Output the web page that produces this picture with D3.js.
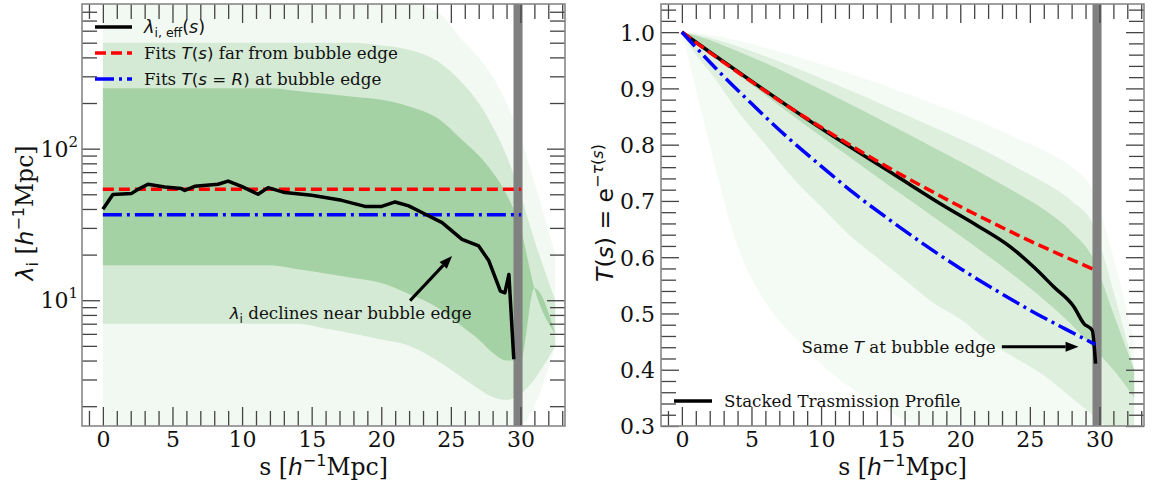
<!DOCTYPE html>
<html>
<head>
<meta charset="utf-8">
<script src="https://cdn.jsdelivr.net/npm/d3@7"></script>
<style>
  body { margin: 0; background: #fff; }
  svg { display: block; }
  text { font-family: 'DejaVu Serif', serif; fill: #111; }
  .math { font-family: 'DejaVu Sans', sans-serif; }
</style>
</head>
<body>
<script>
const WIDTH = 1155
const HEIGHT = 484

// ---- left panel : lambda_i,eff(s) ----
const S_EFF = [0, 0.72, 2.04, 2.5, 3.24, 4.44, 5.64, 5.88, 6.6, 8.27, 9.0, 9.96, 11.15, 11.87, 13.07, 15.0, 17.15, 18.83, 20.03, 21.0, 21.97, 23.17, 24.37, 25.8, 27.0, 27.73, 28.56, 28.88, 29.17, 29.52]
const LAMBDA_EFF = [39.8, 49.9, 50.5, 53.7, 58.2, 55.9, 54.5, 53, 56.4, 58.2, 61.1, 56.4, 50, 55.3, 51.3, 49.2, 45.6, 41.6, 41.6, 44.5, 41.9, 36.9, 32.5, 25.2, 22.8, 18.2, 11.5, 11.2, 14.8, 4.08]
const S_FIT_L = [0, 30.05]
const LAMBDA_FAR = [54, 54]
const LAMBDA_EDGE = [36.7, 36.7]

// spread of individual sightlines (read envelopes)
const S_BAND_L = [0, 2, 4, 6, 8, 10, 12, 14, 16, 18, 20, 22, 24, 26, 27, 28, 29, 30, 31, 32.5]
const OUTER_HI_L = [900, 900, 900, 900, 900, 900, 900, 900, 900, 900, 900, 900, 800, 500, 400, 300, 200, 120, 60, 20]
const OUTER_LO_L = [1.5, 1.5, 1.5, 1.5, 1.5, 1.5, 1.5, 1.5, 1.5, 1.5, 1.5, 1.5, 1.5, 1.5, 1.5, 1.5, 1.5, 1.5, 2, 5]
const MID_HI_L = [500, 500, 500, 500, 500, 500, 500, 500, 500, 500, 480, 450, 380, 260, 200, 140, 90, 50, 25, 10]
const MID_LO_L = [7, 7, 7, 7, 7, 7, 7, 7, 6.5, 6, 5.5, 5, 4, 3, 2.6, 2.3, 2.2, 2.4, 3, 5]
const CORE_HI_L = [250, 250, 250, 250, 250, 250, 250, 240, 230, 220, 210, 190, 160, 110, 90, 70, 50, 30, 12, 6]
const CORE_LO_L = [17, 17, 17, 17, 17, 17, 17, 16, 15, 14, 13, 11, 9, 6.5, 5.5, 4.5, 4, 4, 12, 6]

// ---- right panel : T(s) ----
const S_STACK = [0, 2.1, 5.7, 10, 15.25, 18.84, 21.23, 23.62, 25.3, 26.73, 28.16, 28.88, 29.48, 29.72]
const T_STACK = [1.0, 0.963, 0.901, 0.829, 0.747, 0.691, 0.656, 0.618, 0.582, 0.547, 0.512, 0.482, 0.470, 0.411]
const S_FIT_R = [0, 2.5, 5, 7.5, 10, 12.5, 15, 17.5, 20, 22.5, 25, 27.5, 29.7]
const T_FAR = [1.0, 0.955, 0.912, 0.870, 0.831, 0.793, 0.757, 0.723, 0.690, 0.659, 0.629, 0.601, 0.577]
const T_EDGE = [1.0, 0.934, 0.873, 0.815, 0.762, 0.711, 0.665, 0.621, 0.580, 0.542, 0.506, 0.473, 0.445]

const S_BAND_R = [0, 1, 2, 4, 6, 8, 10, 12, 14, 16, 18, 20, 22, 24, 26, 28, 29.5, 31, 32.5]
const OUTER_HI_R = [1.0, 0.998, 0.995, 0.985, 0.972, 0.958, 0.943, 0.927, 0.91, 0.892, 0.873, 0.855, 0.835, 0.812, 0.79, 0.76, 0.72, 0.6, 0.45]
const OUTER_LO_R = [1.0, 0.9, 0.8, 0.62, 0.52, 0.46, 0.41, 0.37, 0.34, 0.31, 0.29, 0.28, 0.28, 0.28, 0.28, 0.28, 0.28, 0.28, 0.28]
const MID_HI_R = [1.0, 0.996, 0.99, 0.975, 0.957, 0.938, 0.918, 0.897, 0.876, 0.854, 0.832, 0.81, 0.786, 0.76, 0.733, 0.7, 0.66, 0.54, 0.4]
const MID_LO_R = [1.0, 0.96, 0.93, 0.86, 0.8, 0.74, 0.69, 0.64, 0.6, 0.56, 0.52, 0.49, 0.45, 0.42, 0.39, 0.35, 0.32, 0.29, 0.28]
const CORE_HI_R = [1.0, 0.994, 0.986, 0.966, 0.945, 0.922, 0.898, 0.873, 0.848, 0.822, 0.796, 0.77, 0.743, 0.715, 0.685, 0.645, 0.6, 0.5, 0.4]
const CORE_LO_R = [1.0, 0.982, 0.963, 0.925, 0.888, 0.851, 0.815, 0.779, 0.743, 0.708, 0.673, 0.638, 0.602, 0.565, 0.525, 0.48, 0.44, 0.4, 0.35]

const X_DOMAIN = [-1.5, 33.2]
const BUBBLE_EDGE = [29.5, 30.15]
const X_TICKS = [0, 5, 10, 15, 20, 25, 30]

const svg = d3.select('body')
  .append('svg')
  .attr('width', WIDTH)
  .attr('height', HEIGHT)

const PW = 483, PH = 422
const FS_TEXT = 16.7   // legend / annotation text
const FS_LABEL = 23.5  // axis labels
const left = svg.append('g').attr('transform', 'translate(82,4)')
const right = svg.append('g').attr('transform', 'translate(661,4)')

const xL = d3.scaleLinear().domain(X_DOMAIN).range([0, PW])
const xR = d3.scaleLinear().domain(X_DOMAIN).range([0, PW])
const yL = d3.scaleLog().domain([1.48, 900]).range([PH, 0])
const yR = d3.scaleLinear().domain([0.3, 1.05]).range([PH, 0])

const defs = svg.append('defs')
defs.append('clipPath').attr('id', 'clip').append('rect').attr('width', PW).attr('height', PH)

function bands(g, x, y, s, layers) {
  const cg = g.append('g').attr('clip-path', 'url(#clip)')
  layers.forEach(([lo, hi, op]) => {
    const area = d3.area()
      .x((d, i) => x(s[i]))
      .y0((d, i) => y(lo[i]))
      .y1((d, i) => y(hi[i]))
      .curve(d3.curveMonotoneX)
    cg.append('path').datum(s).attr('d', area).attr('fill', 'green').attr('opacity', op)
  })
  return cg
}

function ticks(g, x, y, xMinor, yMajor, yMinor, yFmt) {
  const style = sel => {
    sel.select('.domain').remove()
    sel.selectAll('line').attr('stroke', '#444').attr('stroke-width', 1.3)
  }
  const xMajor = X_TICKS
  g.append('g').attr('transform', `translate(0,${PH})`)
    .call(d3.axisBottom(x).tickValues(xMinor).tickSize(-15).tickFormat('')).call(style)
  g.append('g').attr('transform', `translate(0,${PH})`)
    .call(d3.axisBottom(x).tickValues(xMajor).tickSize(-19).tickPadding(5).tickFormat(d3.format('d'))).call(style)
  g.append('g')
    .call(d3.axisTop(x).tickValues(xMinor).tickSize(-15).tickFormat('')).call(style)
  g.append('g')
    .call(d3.axisTop(x).tickValues(xMajor).tickSize(-19).tickFormat('')).call(style)
  g.append('g')
    .call(d3.axisLeft(y).tickValues(yMinor).tickSize(-15).tickFormat('')).call(style)
  g.append('g')
    .call(d3.axisLeft(y).tickValues(yMajor).tickSize(-18).tickPadding(6).tickFormat(yFmt)).call(style)
  g.append('g').attr('transform', `translate(${PW},0)`)
    .call(d3.axisRight(y).tickValues(yMinor).tickSize(-15).tickFormat('')).call(style)
  g.append('g').attr('transform', `translate(${PW},0)`)
    .call(d3.axisRight(y).tickValues(yMajor).tickSize(-18).tickFormat('')).call(style)
  g.selectAll('.tick text').attr('font-family', 'DejaVu Serif, serif').attr('font-size', 22).attr('fill', '#111')
  g.append('rect').attr('width', PW).attr('height', PH)
    .attr('fill', 'none').attr('stroke', '#888').attr('stroke-width', 1.6)
}

function bubble(g, x) {
  g.append('rect')
    .attr('x', x(BUBBLE_EDGE[0])).attr('width', x(BUBBLE_EDGE[1]) - x(BUBBLE_EDGE[0]))
    .attr('y', 0).attr('height', PH)
    .attr('fill', '#808080')
}

function arrow(g, x1, y1, x2, y2) {
  const a = Math.atan2(y2 - y1, x2 - x1)
  const L = 13, Wd = 5
  const bx = x2 - L * Math.cos(a), by = y2 - L * Math.sin(a)
  g.append('line').attr('x1', x1).attr('y1', y1).attr('x2', bx).attr('y2', by)
    .attr('stroke', '#000').attr('stroke-width', 3)
  g.append('path')
    .attr('d', `M${x2},${y2}L${bx + Wd * Math.sin(a)},${by - Wd * Math.cos(a)}L${bx - Wd * Math.sin(a)},${by + Wd * Math.cos(a)}Z`)
    .attr('fill', '#000')
}

const xMinor = d3.range(-1, 34).filter(v => v % 5 !== 0)

// ===== left panel =====
bands(left, xL, yL, S_BAND_L, [
  [OUTER_LO_L, OUTER_HI_L, 0.05],
  [MID_LO_L, MID_HI_L, 0.12],
  [CORE_LO_L, CORE_HI_L, 0.22]
])
bubble(left, xL)

const lineL = (s, v, curve) => d3.line().x((d, i) => xL(s[i])).y((d, i) => yL(v[i])).curve(curve || d3.curveLinear)
left.append('path').datum(S_FIT_L).attr('d', lineL(S_FIT_L, LAMBDA_FAR))
  .attr('fill', 'none').attr('stroke', 'red').attr('stroke-width', 3.5).attr('stroke-dasharray', '11,5')
left.append('path').datum(S_FIT_L).attr('d', lineL(S_FIT_L, LAMBDA_EDGE))
  .attr('fill', 'none').attr('stroke', 'blue').attr('stroke-width', 3.5).attr('stroke-dasharray', '19,5,3,5')
left.append('path').datum(S_EFF).attr('d', lineL(S_EFF, LAMBDA_EFF))
  .attr('fill', 'none').attr('stroke', '#000').attr('stroke-width', 3.5).attr('stroke-linejoin', 'round')

const logMinor = []
;[1, 10, 100].forEach(p => d3.range(2, 10).forEach(m => { if (m * p > 1.48 && m * p < 900) logMinor.push(m * p) }))
ticks(left, xL, yL, xMinor, [10, 100], logMinor, () => '')
// log tick labels 10^1, 10^2
;[[10, '1'], [100, '2']].forEach(([v, e]) => {
  const t = left.append('text').attr('x', -4).attr('y', yL(v) + 8).attr('text-anchor', 'end').attr('font-size', 22)
  t.append('tspan').text('10')
  t.append('tspan').attr('font-size', 15).attr('dy', -10).text(e)
})

// legend left
const legL = [
  { y: 23, dash: null, color: '#000' },
  { y: 49, dash: '11,5', color: 'red' },
  { y: 75, dash: '19,5,3,5', color: 'blue' }
]
legL.forEach(d => {
  left.append('line').attr('x1', 13).attr('x2', 50).attr('y1', d.y).attr('y2', d.y)
    .attr('stroke', d.color).attr('stroke-width', 3.5).attr('stroke-dasharray', d.dash)
})
{
  const t = left.append('text').attr('x', 62).attr('y', 29).attr('font-size', FS_TEXT + 1)
  t.append('tspan').attr('class', 'math').attr('font-style', 'italic').text('λ')
  t.append('tspan').attr('class', 'math').attr('font-size', 12.5).attr('dy', 4).text('i, eff')
  t.append('tspan').attr('class', 'math').attr('dy', -4).text('(')
  t.append('tspan').attr('class', 'math').attr('font-style', 'italic').text('s')
  t.append('tspan').attr('class', 'math').text(')')
  const t2 = left.append('text').attr('x', 62).attr('y', 55).attr('font-size', FS_TEXT)
  t2.append('tspan').text('Fits ')
  t2.append('tspan').attr('class', 'math').attr('font-style', 'italic').text('T')
  t2.append('tspan').attr('class', 'math').text('(')
  t2.append('tspan').attr('class', 'math').attr('font-style', 'italic').text('s')
  t2.append('tspan').attr('class', 'math').text(')')
  t2.append('tspan').text(' far from bubble edge')
  const t3 = left.append('text').attr('x', 62).attr('y', 81).attr('font-size', FS_TEXT)
  t3.append('tspan').text('Fits ')
  t3.append('tspan').attr('class', 'math').attr('font-style', 'italic').text('T')
  t3.append('tspan').attr('class', 'math').text('(')
  t3.append('tspan').attr('class', 'math').attr('font-style', 'italic').text('s')
  t3.append('tspan').attr('class', 'math').text(' = ')
  t3.append('tspan').attr('class', 'math').attr('font-style', 'italic').text('R')
  t3.append('tspan').attr('class', 'math').text(')')
  t3.append('tspan').text(' at bubble edge')
}

// annotation left
arrow(left, xL(22.07), yL(9.94), xL(25.09), yL(19.6))
{
  const t = left.append('text').attr('x', xL(17.8)).attr('y', 315).attr('text-anchor', 'middle').attr('font-size', FS_TEXT)
  t.append('tspan').attr('class', 'math').attr('font-style', 'italic').text('λ')
  t.append('tspan').attr('class', 'math').attr('font-size', 12).attr('dy', 4).text('i')
  t.append('tspan').attr('dy', -4).text(' declines near bubble edge')
}

// ===== right panel =====
bands(right, xR, yR, S_BAND_R, [
  [OUTER_LO_R, OUTER_HI_R, 0.045],
  [MID_LO_R, MID_HI_R, 0.09],
  [CORE_LO_R, CORE_HI_R, 0.17]
])
bubble(right, xR)

const lineR = (s, v, curve) => d3.line().x((d, i) => xR(s[i])).y((d, i) => yR(v[i])).curve(curve || d3.curveMonotoneX)
right.append('path').datum(S_STACK).attr('d', lineR(S_STACK, T_STACK))
  .attr('fill', 'none').attr('stroke', '#000').attr('stroke-width', 3.5)
right.append('path').datum(S_FIT_R).attr('d', lineR(S_FIT_R, T_FAR))
  .attr('fill', 'none').attr('stroke', 'red').attr('stroke-width', 3.5).attr('stroke-dasharray', '11,5')
right.append('path').datum(S_FIT_R).attr('d', lineR(S_FIT_R, T_EDGE))
  .attr('fill', 'none').attr('stroke', 'blue').attr('stroke-width', 3.5).attr('stroke-dasharray', '19,5,3,5')

const tMajor = d3.range(3, 11).map(v => v / 10)
const tMinor = d3.range(15, 53).map(v => v / 50).filter(v => Math.round(v * 50) % 5 !== 0)
ticks(right, xR, yR, xMinor, tMajor, tMinor, d3.format('.1f'))
right.selectAll('.tick text').filter(function () { return this.textContent.includes('.') })
  .attr('dy', '0.36em')

// legend right
right.append('line').attr('x1', 13).attr('x2', 51).attr('y1', 397).attr('y2', 397)
  .attr('stroke', '#000').attr('stroke-width', 3.5)
right.append('text').attr('x', 63).attr('y', 403).attr('font-size', FS_TEXT).text('Stacked Trasmission Profile')

// annotation right
arrow(right, xR(22.99), yR(0.4407), xR(28.5), yR(0.4407))
{
  const t = right.append('text').attr('x', xR(22.55)).attr('y', yR(0.4407) + 6).attr('text-anchor', 'end').attr('font-size', FS_TEXT)
  t.append('tspan').text('Same ')
  t.append('tspan').attr('class', 'math').attr('font-style', 'italic').text('T')
  t.append('tspan').text(' at bubble edge')
}

// ===== axis labels =====
function xLabel(g) {
  const t = g.append('text').attr('x', PW / 2).attr('y', 471).attr('text-anchor', 'middle').attr('font-size', FS_LABEL)
  t.append('tspan').text('s [')
  t.append('tspan').attr('class', 'math').attr('font-style', 'italic').text('h')
  t.append('tspan').attr('class', 'math').attr('font-size', 16).attr('dy', -9).text('−1')
  t.append('tspan').attr('dy', 9).text('Mpc]')
}
xLabel(left)
xLabel(right)

{
  const t = svg.append('text').attr('transform', 'translate(33,213) rotate(-90)').attr('text-anchor', 'middle').attr('font-size', FS_LABEL)
  t.append('tspan').attr('class', 'math').attr('font-style', 'italic').text('λ')
  t.append('tspan').attr('class', 'math').attr('font-size', 16).attr('dy', 5).text('i')
  t.append('tspan').attr('dy', -5).text(' [')
  t.append('tspan').attr('class', 'math').attr('font-style', 'italic').text('h')
  t.append('tspan').attr('class', 'math').attr('font-size', 16).attr('dy', -9).text('−1')
  t.append('tspan').attr('dy', 9).text('Mpc]')
}
{
  const t = svg.append('text').attr('transform', 'translate(613,213) rotate(-90)').attr('text-anchor', 'middle').attr('font-size', FS_LABEL)
  t.append('tspan').attr('class', 'math').attr('font-style', 'italic').text('T')
  t.append('tspan').attr('class', 'math').text('(')
  t.append('tspan').attr('class', 'math').attr('font-style', 'italic').text('s')
  t.append('tspan').attr('class', 'math').text(') = e')
  t.append('tspan').attr('class', 'math').attr('font-size', 16).attr('dy', -10).text('−')
  t.append('tspan').attr('class', 'math').attr('font-size', 16).attr('font-style', 'italic').text('τ')
  t.append('tspan').attr('class', 'math').attr('font-size', 16).text('(')
  t.append('tspan').attr('class', 'math').attr('font-size', 16).attr('font-style', 'italic').text('s')
  t.append('tspan').attr('class', 'math').attr('font-size', 16).text(')')
}
</script>
</body>
</html>
